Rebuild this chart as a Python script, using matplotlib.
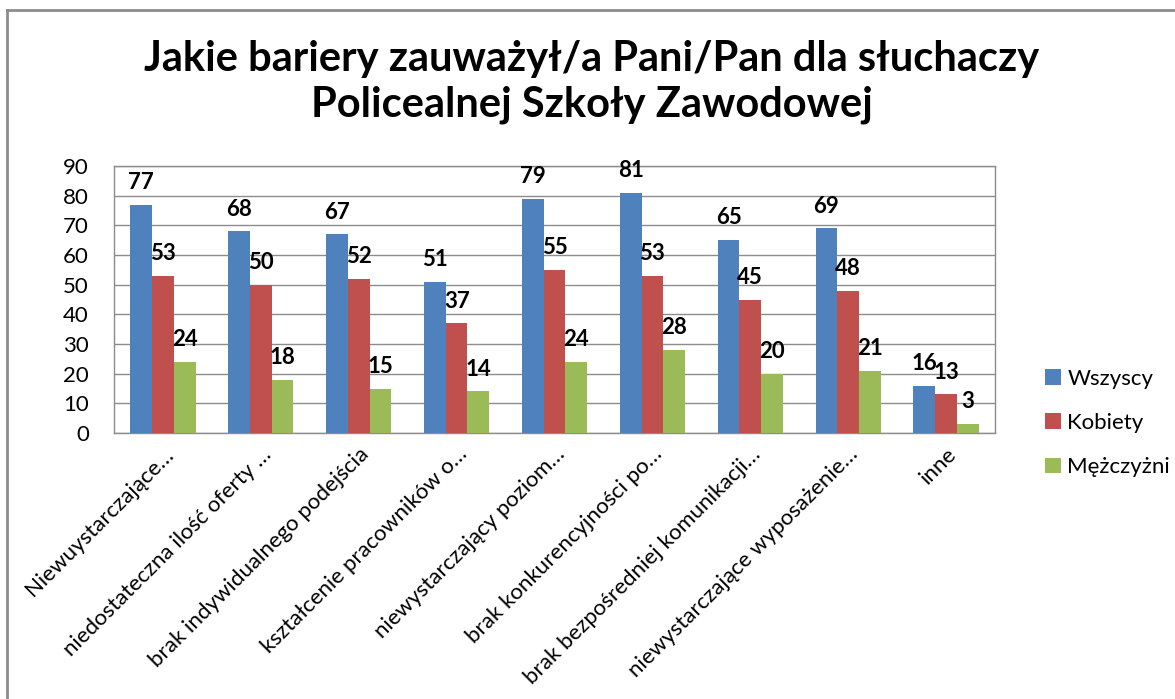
import numpy as np
import matplotlib.pyplot as plt
from matplotlib.lines import Line2D

plt.rcParams['font.family'] = ['Lato', 'DejaVu Sans']

categories = ["Niewuystarczające…", "niedostateczna ilość oferty …", "brak indywidualnego podejścia",
              "kształcenie pracowników o…", "niewystarczający poziom…", "brak konkurencyjności po…",
              "brak bezpośredniej komunikacji…", "niewystarczające wyposażenie…", "inne"]
wszyscy = [77, 68, 67, 51, 79, 81, 65, 69, 16]
kobiety = [53, 50, 52, 37, 55, 53, 45, 48, 13]
mezczyzni = [24, 18, 15, 14, 24, 28, 20, 21, 3]
series_names = ["Wszyscy", "Kobiety", "Mężczyżni"]
colors = ["#4F81BD", "#C0504D", "#9BBB59"]

fig = plt.figure(figsize=(11.75, 6.99), dpi=100)
ax = fig.add_axes([114 / 1175, 1 - 433 / 699, (995 - 114) / 1175, (433 - 166) / 699])

x = np.arange(len(categories))
w = 1 / 4.5
for i, (vals, name, c) in enumerate(zip([wszyscy, kobiety, mezczyzni], series_names, colors)):
    pos = x + (i - 1) * w
    ax.bar(pos, vals, width=w, color=c, label=name, zorder=3)
    for px, v in zip(pos, vals):
        ax.annotate(str(v), (px, v), xytext=(0, 16), textcoords='offset points',
                    ha='center', va='center', fontsize=16, fontweight='bold', zorder=4)

ax.set_xlim(-0.5, len(categories) - 0.5)
ax.set_ylim(0, 90)
ax.set_yticks(range(0, 91, 10))
ax.yaxis.grid(True, color='#8c8c8c', lw=1, zorder=0)
ax.set_xticks(x)
ax.set_xticklabels(categories, rotation=45, ha='right', rotation_mode='anchor', fontsize=16)
ax.tick_params(axis='both', length=0, labelsize=16)
ax.tick_params(axis='y', pad=18)
ax.tick_params(axis='x', pad=8)
for s in ax.spines.values():
    s.set_color('#8c8c8c')
    s.set_linewidth(1)

ax.legend(loc='center left', bbox_to_anchor=(1025 / 1175, 1 - 423 / 699), bbox_transform=fig.transFigure,
          frameon=False, fontsize=16, handlelength=0.7, handleheight=0.7, handletextpad=0.3,
          labelspacing=1.1)

fig.text(592 / 1175, 1 - 82 / 699, "Jakie bariery zauważył/a Pani/Pan dla słuchaczy\nPolicealnej Szkoły Zawodowej",
         ha='center', va='center', fontsize=30, fontweight='bold', linespacing=1.25)

fig.add_artist(Line2D([7 / 1175, 7 / 1175], [0, 1 - 10 / 699], transform=fig.transFigure, color='#8c8c8c', lw=2))
fig.add_artist(Line2D([7 / 1175, 1], [1 - 10 / 699, 1 - 10 / 699], transform=fig.transFigure, color='#8c8c8c', lw=2))

fig.savefig("out.png", dpi=100)
